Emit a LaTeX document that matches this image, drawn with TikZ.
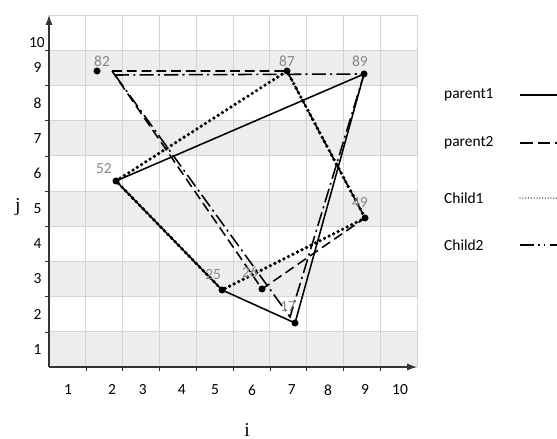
\documentclass[tikz,border=0pt]{standalone}
\usepackage{fontspec}
\setmainfont{Carlito}
\newfontfamily\axfont{Liberation Serif}
\usetikzlibrary{arrows.meta}
\definecolor{band}{HTML}{EDEDED}
\definecolor{gridc}{HTML}{D4D4D4}
\definecolor{numc}{HTML}{888888}
\tikzset{
  city/.style={circle,fill=black,inner sep=0pt,minimum size=5pt},
  num/.style={text=numc,inner sep=0pt},
  par1/.style={line width=1.1pt},
  par2/.style={line width=1.1pt,dash pattern=on 7pt off 3.5pt},
  chi1/.style={line width=2.6pt,line cap=round,dash pattern=on 0pt off 3.6pt},
  chi2/.style={line width=1.1pt,dash pattern=on 10pt off 3pt on 1.5pt off 3pt},
}
\begin{document}
\begin{tikzpicture}[x=0.92cm,y=0.88cm,font=\fontsize{11}{13}\selectfont]
\useasboundingbox (-1.332,-2.045) rectangle (13.804,10.426);
% grey bands and grid
\foreach \y in {0,2,4,6,8}
\fill[band] (0,\y) rectangle (10,\y+1);
\draw[gridc,line width=0.6pt,step={(1,1)}] (0,0) grid (10,10);
% axes
\draw[-{Latex[length=7pt,width=5pt]},line width=0.9pt,black!80] (0,0) -- (10,0);
\draw[-{Latex[length=7pt,width=5pt]},line width=0.9pt,black!80] (0,0) -- (0,10);
\foreach \x in {1,...,9}
\draw[black!80] (\x,0) -- (\x,-0.12);
\foreach \y in {1,...,9}
\draw[black!80] (0,\y) -- (-0.12,\y);
\foreach \y in {1,...,9}
\node[anchor=east,inner sep=0pt] (ty\y) at (-0.2,\y-0.5) {\y};
\node[anchor=east,inner sep=0pt] (ty10) at (-0.11,9.23) {10};
\foreach \x/\p in {1/0.52,2/1.71,3/2.55,4/3.61,5/4.51,6/5.52,7/6.6,8/7.58,9/8.59,10/9.54}
\node (tx\x) at (\p,-0.65) {\x};
\node[font=\axfont\fontsize{14}{16}\selectfont] (jlab) at (-0.85,4.55) {j};
\node[font=\axfont\fontsize{14}{16}\selectfont] (ilab) at (5.38,-1.79) {i};
% cities
\coordinate (c82) at (1.304,8.409);
\coordinate (c87) at (6.467,8.409);
\coordinate (c89) at (8.560,8.324);
\coordinate (c52) at (1.821,5.284);
\coordinate (c49) at (8.587,4.233);
\coordinate (c25) at (4.701,2.188);
\coordinate (c26) at (5.788,2.216);
\coordinate (c17) at (6.685,1.250);
\coordinate (v82a) at (1.712,8.409);
\coordinate (v82b) at (1.793,8.295);
\coordinate (v17b) at (6.549,1.420);
% tours
\draw[par1] (c52) -- (c89) -- (c17) -- (c25) -- cycle;
\draw[par2] (v82a) -- (c87) -- (c49) -- (c26) -- cycle;
\draw[chi1] (c52) -- (c87) -- (c49) -- (c25) -- cycle;
\draw[chi2] (v82b) -- (c89) -- (v17b) -- cycle;
\foreach \c in {82,87,89,52,49,25,26,17}
\node[city] (d\c) at (c\c) {};
\node[num] (l82) at (1.44,8.69) {82};
\node[num] (l87) at (6.467,8.69) {87};
\node[num] (l89) at (8.45,8.69) {89};
\node[num] (l52) at (1.49,5.65) {52};
\node[num] (l49) at (8.45,4.66) {49};
\node[num] (l25) at (4.46,2.64) {25};
\node[num] (l26) at (5.46,2.70) {26};
\node[num] (l17) at (6.49,1.73) {17};
% legend
\node[anchor=west,inner sep=0pt] (leg1) at (10.73,7.73) {parent1};
\node[anchor=west,inner sep=0pt] (leg2) at (10.73,6.36) {parent2};
\node[anchor=west,inner sep=0pt] (leg3) at (10.73,4.80) {Child1};
\node[anchor=west,inner sep=0pt] (leg4) at (10.73,3.47) {Child2};
\draw[line width=1.1pt] (12.8,7.73) -- (13.804,7.73);
\draw[line width=1.1pt,dash pattern=on 9pt off 3.5pt] (12.8,6.36) -- (13.804,6.36);
\draw[line width=0.9pt,line cap=round,dash pattern=on 0pt off 2pt] (12.8,4.80) -- (13.804,4.80);
\draw[line width=1.1pt,dash pattern=on 10pt off 3pt on 1pt off 3pt on 1pt off 3pt] (12.8,3.47) -- (13.804,3.47);
\end{tikzpicture}
\end{document}
